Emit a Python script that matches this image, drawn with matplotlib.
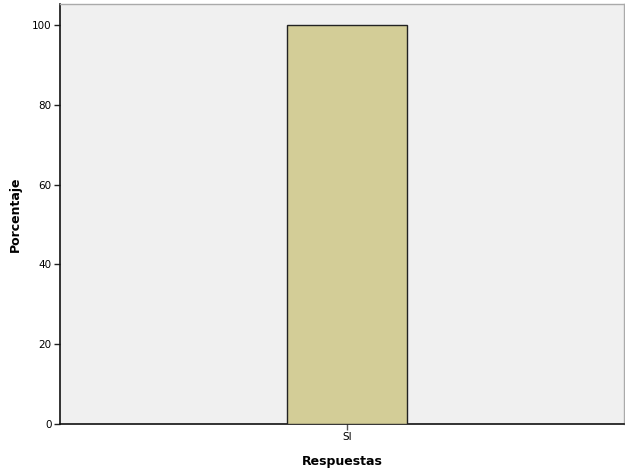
import matplotlib.pyplot as plt

categorias = ["SI"]
porcentajes = [100]

fig = plt.figure(figsize=(6.25, 4.73), dpi=100)
ax = fig.add_axes([60 / 625, 49 / 473, 564 / 625, 420 / 473])
ax.set_facecolor("#f0f0f0")

x = list(range(len(categorias)))
ax.bar(x, porcentajes, width=1.0, color="#d3cd97", edgecolor="#222222", linewidth=1.0, zorder=3)

ax.set_xlim(-2.39, 2.31)
ax.set_ylim(0, 105.3)
ax.set_xticks(x)
ax.set_xticklabels(categorias)
ax.set_yticks([0, 20, 40, 60, 80, 100])

ax.tick_params(axis="both", labelsize=7.5, length=4, width=1, color="#222222", pad=2)
ax.tick_params(axis="x", color="#555555")

for s in ["left", "bottom"]:
    ax.spines[s].set_color("#111111")
    ax.spines[s].set_linewidth(1.2)
for s in ["top", "right"]:
    ax.spines[s].set_color("#aaaaaa")
    ax.spines[s].set_linewidth(1.0)

ax.set_xlabel("Respuestas", fontsize=9, fontweight="bold", labelpad=9)
ax.set_ylabel("Porcentaje", fontsize=9, fontweight="bold", labelpad=7)

fig.savefig("out.png", dpi=100)
